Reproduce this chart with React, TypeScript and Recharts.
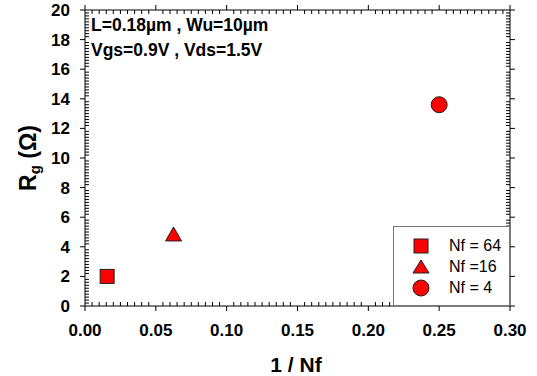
import React from 'react';
import { ScatterChart, Scatter, XAxis, YAxis, ReferenceLine } from 'recharts';

const FONT = "Arial, 'Liberation Sans', sans-serif";

// one point per finger count
const nf64 = [{ x: 0.015625, y: 2.0 }];
const nf16 = [{ x: 0.0625, y: 4.8 }];
const nf4 = [{ x: 0.25, y: 13.6 }];

const legendItems = [
  { label: 'Nf = 64', shape: 'square' },
  { label: 'Nf =16', shape: 'triangle' },
  { label: 'Nf = 4', shape: 'circle' }
];

const X_MAJOR = [0, 0.05, 0.1, 0.15, 0.2, 0.25, 0.3];
const Y_MAJOR = [0, 2, 4, 6, 8, 10, 12, 14, 16, 18, 20];

// minor ticks: 10 per major interval
const xTicks = Array.from({ length: 61 }, (_, i) => Number((i * 0.005).toFixed(3)));
const yTicks = Array.from({ length: 101 }, (_, i) => Number((i * 0.2).toFixed(1)));

const isMajor = (v: number, majors: number[]) => majors.some((m) => Math.abs(m - v) < 1e-9);

const RED = '#ff0000';
const EDGE = '#222';

// tick lengths in data units (≈4px inward for minor, ≈5px outward for major)
const X_IN = 0.27;
const X_OUT = 0.34;
const Y_IN = 0.0028;
const Y_OUT = 0.0035;

const makeLabel = (side: 'bottom' | 'left' | 'none', majors: number[], fmt?: (v: number) => string) =>
  (props: any) => {
    const x = Number(props.x);
    const y = Number(props.y);
    const major = isMajor(props.payload.value, majors);
    if (!major || !fmt || side === 'none') return <g />;
    if (side === 'bottom')
      return (
        <text x={x} y={y + 30} textAnchor="middle" fontFamily={FONT} fontWeight="bold" fontSize={17} fill="#000">
          {fmt(props.payload.value)}
        </text>
      );
    return (
      <text x={x - 15} y={y + 6} textAnchor="end" fontFamily={FONT} fontWeight="bold" fontSize={17} fill="#000">
        {fmt(props.payload.value)}
      </text>
    );
  };

const Square = (props: any) => (
  <rect x={props.cx - 7} y={props.cy - 7} width={14} height={14} fill={RED} stroke={EDGE} strokeWidth={1} />
);
const Triangle = (props: any) => (
  <polygon
    points={`${props.cx},${props.cy - 8} ${props.cx + 8},${props.cy + 6} ${props.cx - 8},${props.cy + 6}`}
    fill={RED}
    stroke={EDGE}
    strokeWidth={1}
  />
);
const Circle = (props: any) => <circle cx={props.cx} cy={props.cy} r={8} fill={RED} stroke={EDGE} strokeWidth={1} />;

const LegendIcon = ({ shape }: { shape: string }) => (
  <svg width={20} height={20} style={{ display: 'block' }}>
    {shape === 'square' && <rect x={3} y={3} width={14} height={14} fill={RED} stroke={EDGE} />}
    {shape === 'triangle' && <polygon points="10,3 18,16 2,16" fill={RED} stroke={EDGE} />}
    {shape === 'circle' && <circle cx={10} cy={10} r={8} fill={RED} stroke={EDGE} />}
  </svg>
);

const LegendBox = () => (
  <div
    style={{
      position: 'absolute',
      left: 393,
      top: 226,
      width: 117,
      height: 80,
      border: '1px solid #777',
      background: '#fff',
      boxSizing: 'border-box',
      paddingTop: 8,
      fontFamily: FONT,
      fontSize: 16
    }}
  >
    {legendItems.map((it) => (
      <div key={it.label} style={{ display: 'flex', alignItems: 'center', height: 21 }}>
        <div style={{ marginLeft: 17, width: 20 }}>
          <LegendIcon shape={it.shape} />
        </div>
        <span style={{ marginLeft: 18 }}>{it.label}</span>
      </div>
    ))}
  </div>
);

const Labels = () => (
  <svg width={537} height={376} style={{ position: 'absolute', left: 0, top: 0, pointerEvents: 'none' }}>
    <g fontFamily={FONT} fontWeight="bold" fill="#000">
      <text x={91} y={31} fontSize={17.5}>L=0.18µm , Wu=10µm</text>
      <text x={91} y={56} fontSize={17.5}>Vgs=0.9V , Vds=1.5V</text>
      <text x={296} y={372} fontSize={21} textAnchor="middle">1 / Nf</text>
      <text transform="translate(36,158) rotate(-90)" fontSize={23} textAnchor="middle">
        R<tspan fontSize={15} dy={4}>g</tspan>
        <tspan dy={-4}> (Ω)</tspan>
      </text>
    </g>
  </svg>
);

// tick marks as short segments on all four sides of the frame
const tickSegments = [
  ...xTicks.map((v) =>
    isMajor(v, X_MAJOR)
      ? [[{ x: v, y: 0 }, { x: v, y: -X_OUT }], [{ x: v, y: 20 }, { x: v, y: 20 + X_OUT }]]
      : [[{ x: v, y: 0 }, { x: v, y: X_IN }], [{ x: v, y: 20 }, { x: v, y: 20 - X_IN }]]
  ),
  ...yTicks.map((v) =>
    isMajor(v, Y_MAJOR)
      ? [[{ x: 0, y: v }, { x: -Y_OUT, y: v }], [{ x: 0.3, y: v }, { x: 0.3 + Y_OUT, y: v }]]
      : [[{ x: 0, y: v }, { x: Y_IN, y: v }], [{ x: 0.3, y: v }, { x: 0.3 - Y_IN, y: v }]]
  )
].flat();

const axisCommon = {
  type: 'number' as const,
  interval: 0 as const,
  tickSize: 0,
  tickMargin: 0,
  tickLine: false,
  axisLine: { stroke: '#000' }
};

const App: React.FC = () => {
  return (
    <div style={{ position: 'absolute', left: 0, top: 0, width: 537, height: 376, background: '#fff' }}>
      <ScatterChart width={537} height={376} margin={{ top: 9, right: 26, bottom: 69, left: 84 }}>
        <XAxis {...axisCommon} xAxisId="b" dataKey="x" domain={[0, 0.3]} ticks={xTicks} height={1}
          tick={makeLabel('bottom', X_MAJOR, (v) => v.toFixed(2))} />
        <XAxis {...axisCommon} xAxisId="t" orientation="top" dataKey="x" domain={[0, 0.3]} ticks={X_MAJOR} height={1}
          tick={false} />
        <YAxis {...axisCommon} yAxisId="l" dataKey="y" domain={[0, 20]} ticks={yTicks} width={1}
          tick={makeLabel('left', Y_MAJOR, (v) => String(v))} />
        <YAxis {...axisCommon} yAxisId="r" orientation="right" dataKey="y" domain={[0, 20]} ticks={Y_MAJOR} width={1}
          tick={false} />
        {tickSegments.map((seg, i) => (
          <ReferenceLine
            key={i}
            xAxisId="b"
            yAxisId="l"
            segment={seg as any}
            stroke="#000"
            strokeWidth={1}
            ifOverflow="visible"
          />
        ))}
        <Scatter xAxisId="b" yAxisId="l" data={nf64} shape={Square} isAnimationActive={false} />
        <Scatter xAxisId="b" yAxisId="r" data={nf16} shape={Triangle} isAnimationActive={false} />
        <Scatter xAxisId="t" yAxisId="r" data={nf4} shape={Circle} isAnimationActive={false} />
      </ScatterChart>
      <Labels />
      <LegendBox />
    </div>
  );
};

export default App;
